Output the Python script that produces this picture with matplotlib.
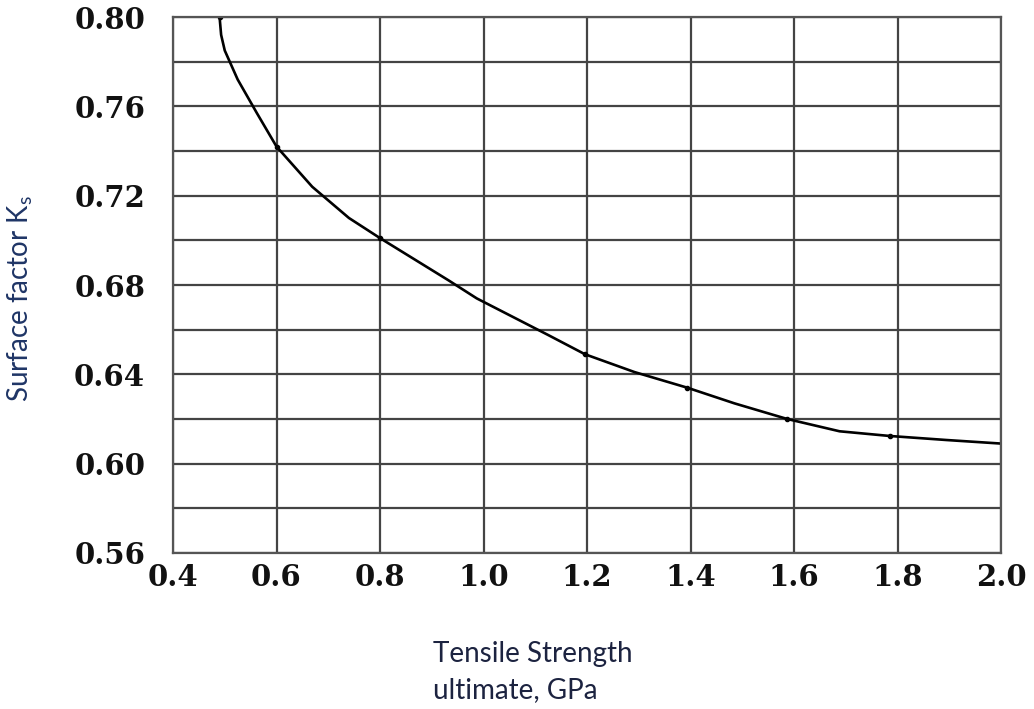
import numpy as np
import matplotlib
matplotlib.use("Agg")
import matplotlib.pyplot as plt

# values
tensile = [0.490, 0.493, 0.500, 0.525, 0.562, 0.600, 0.669, 0.740, 0.800, 0.933, 0.987,
           1.125, 1.196, 1.292, 1.394, 1.485, 1.587, 1.688, 1.785, 1.894, 2.000]
ks = [0.800, 0.792, 0.785, 0.772, 0.757, 0.742, 0.724, 0.710, 0.701, 0.682, 0.674,
      0.6576, 0.649, 0.641, 0.634, 0.627, 0.620, 0.6145, 0.6124, 0.6106, 0.609]
dot_idx = [0, 5, 8, 12, 14, 16, 18]

x_ticks = [0.4, 0.6, 0.8, 1.0, 1.2, 1.4, 1.6, 1.8, 2.0]
y_ticks = [0.56, 0.60, 0.64, 0.68, 0.72, 0.76, 0.80]
y_grid = np.arange(0.56, 0.8001, 0.02)

fig = plt.figure(figsize=(10.34, 7.09), dpi=100)
ax = fig.add_axes([173/1034, 1 - 553/709, (1001 - 173)/1034, (553 - 17)/709])

ax.plot(tensile, ks, color="black", lw=1.9, marker="o", ms=3, markevery=dot_idx)

ax.set_xlim(0.4, 2.0)
ax.set_ylim(0.56, 0.80)
ax.set_xticks(x_ticks)
ax.set_xticklabels([f"{v:.1f}" for v in x_ticks])
ax.set_yticks(y_ticks)
ax.set_yticklabels([f"{v:.2f}" for v in y_ticks])
ax.set_yticks(y_grid, minor=True)
ax.tick_params(which="both", length=0)
ax.tick_params(axis="y", pad=20)
ax.tick_params(axis="x", pad=7)
for lab in ax.get_xticklabels() + ax.get_yticklabels():
    lab.set_fontfamily("DejaVu Serif")
    lab.set_fontweight("bold")
    lab.set_fontsize(21)
    lab.set_color("#111111")

ax.grid(True, which="major", axis="x", color="#444444", lw=1.6)
ax.grid(True, which="both", axis="y", color="#444444", lw=1.6)
for sp in ax.spines.values():
    sp.set_color("#555555")
    sp.set_linewidth(1.6)

fig.text(433/1034, 1 - 641/709, "Tensile Strength\nultimate, GPa", ha="left", va="top",
         fontsize=20, family="Lato", color="#1c2340", linespacing=1.5)
fig.text(20/1034, 1 - 298/709, "Surface factor K$_\\mathregular{s}$", rotation=90, ha="center",
         va="center", fontsize=20, family="Lato", color="#1f3566")

fig.savefig("out.png", dpi=100, facecolor="white")
